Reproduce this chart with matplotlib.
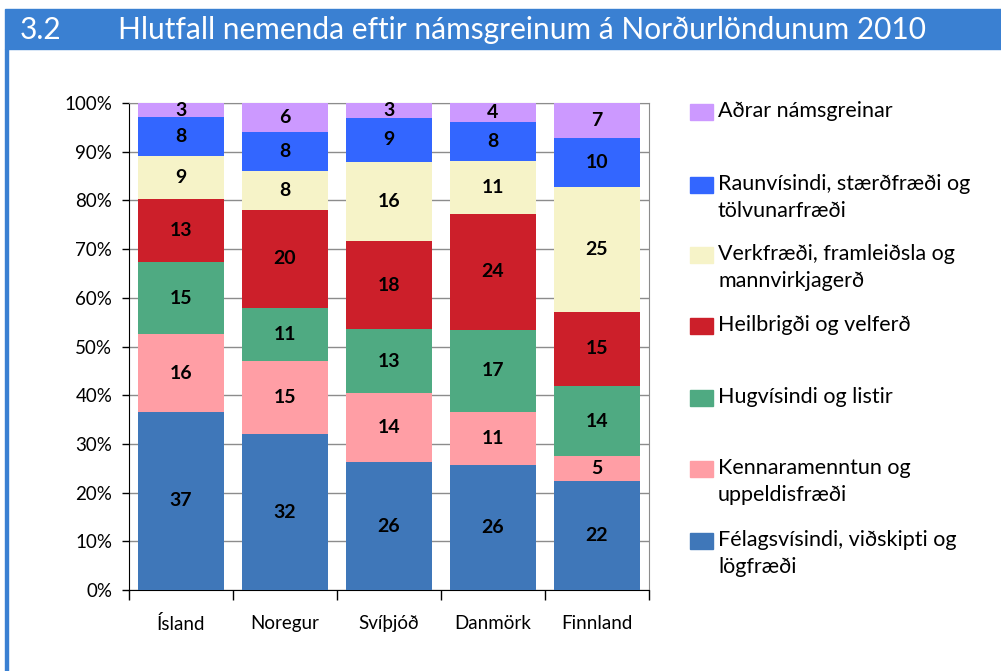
import numpy as np
import matplotlib
matplotlib.use('Agg')
import matplotlib.pyplot as plt
from matplotlib.patches import Rectangle
from matplotlib.ticker import FixedLocator, PercentFormatter

plt.rcParams['font.family'] = ['Lato', 'DejaVu Sans']

# ===== 数据 =====
countries = ['Ísland', 'Noregur', 'Svíþjóð', 'Danmörk', 'Finnland']
subjects = ['Félagsvísindi, viðskipti og\nlögfræði',
            'Kennaramenntun og\nuppeldisfræði',
            'Hugvísindi og listir',
            'Heilbrigði og velferð',
            'Verkfræði, framleiðsla og\nmannvirkjagerð',
            'Raunvísindi, stærðfræði og\ntölvunarfræði',
            'Aðrar námsgreinar']
values = np.array([
    [37, 32, 26, 26, 22],   # Félagsvísindi
    [16, 15, 14, 11, 5],    # Kennaramenntun
    [15, 11, 13, 17, 14],   # Hugvísindi
    [13, 20, 18, 24, 15],   # Heilbrigði
    [9, 8, 16, 11, 25],     # Verkfræði
    [8, 8, 9, 8, 10],       # Raunvísindi
    [3, 6, 3, 4, 7],        # Aðrar
], dtype=float)
colors = ['#3F77B9', '#FF9EA5', '#4FAA82', '#CC1F2A', '#F6F3C8', '#3366FF', '#CC99FF']

W, H = 1001, 671
fig = plt.figure(figsize=(W / 100, H / 100), dpi=100)

# 标题栏
hdr = '#3A80D2'
fig.patches.append(Rectangle((5 / W, 1 - 49 / H), 1 - 5 / W, 40 / H,
                             transform=fig.transFigure, color=hdr, zorder=0))
fig.patches.append(Rectangle((5 / W, 0), 2.5 / W, 1 - 49 / H,
                             transform=fig.transFigure, color=hdr, zorder=0))
fig.text(20 / W, 1 - 30 / H, '3.2', color='white', fontsize=21.5, va='center')
fig.text(118 / W, 1 - 30 / H, 'Hlutfall nemenda eftir námsgreinum á Norðurlöndunum 2010',
         color='white', fontsize=21.5, va='center')

ax = fig.add_axes([129 / W, 1 - 590 / H, 520 / W, 487 / H])
x = np.arange(len(countries))
totals = values.sum(axis=0)
shares = values / totals * 100
bottom = np.zeros(len(countries))
for i in range(len(subjects)):
    ax.bar(x, shares[i], bottom=bottom, width=0.835, color=colors[i], zorder=3)
    for j in range(len(countries)):
        ax.text(x[j], bottom[j] + shares[i][j] / 2, '%d' % values[i][j],
                ha='center', va='center', fontsize=14, fontweight='bold', zorder=4)
    bottom += shares[i]

ax.set_xlim(-0.5, len(countries) - 0.5)
ax.set_ylim(0, 100)
ax.set_yticks(np.arange(0, 101, 10))
ax.yaxis.set_major_formatter(PercentFormatter(decimals=0))
ax.grid(axis='y', color='#8c8c8c', linewidth=1, zorder=0)
ax.set_xticks(x)
ax.set_xticklabels(countries)
ax.xaxis.set_minor_locator(FixedLocator(np.arange(-0.5, len(countries), 1)))
ax.tick_params(axis='x', which='major', length=0, pad=18, labelsize=13.5)
ax.tick_params(axis='x', which='minor', length=7, width=1)
ax.tick_params(axis='y', length=5, width=1, labelsize=13.5, pad=7)
for s in ['top', 'right']:
    ax.spines[s].set_color('#8c8c8c')
for s in ['left', 'bottom']:
    ax.spines[s].set_color('black')

# 图例 (手动排布)
leg_y = [112, 185, 255, 326, 398, 469, 541]
for i, yy in enumerate(leg_y):
    k = len(subjects) - 1 - i
    fig.patches.append(Rectangle((690 / W, 1 - (yy + 8) / H), 23 / W, 16 / H,
                                 transform=fig.transFigure, color=colors[k]))
    fig.text(718 / W, 1 - (yy - 11) / H, subjects[k], fontsize=15.5,
             va='top', ha='left', linespacing=1.45)

fig.savefig('out.png', dpi=100)
